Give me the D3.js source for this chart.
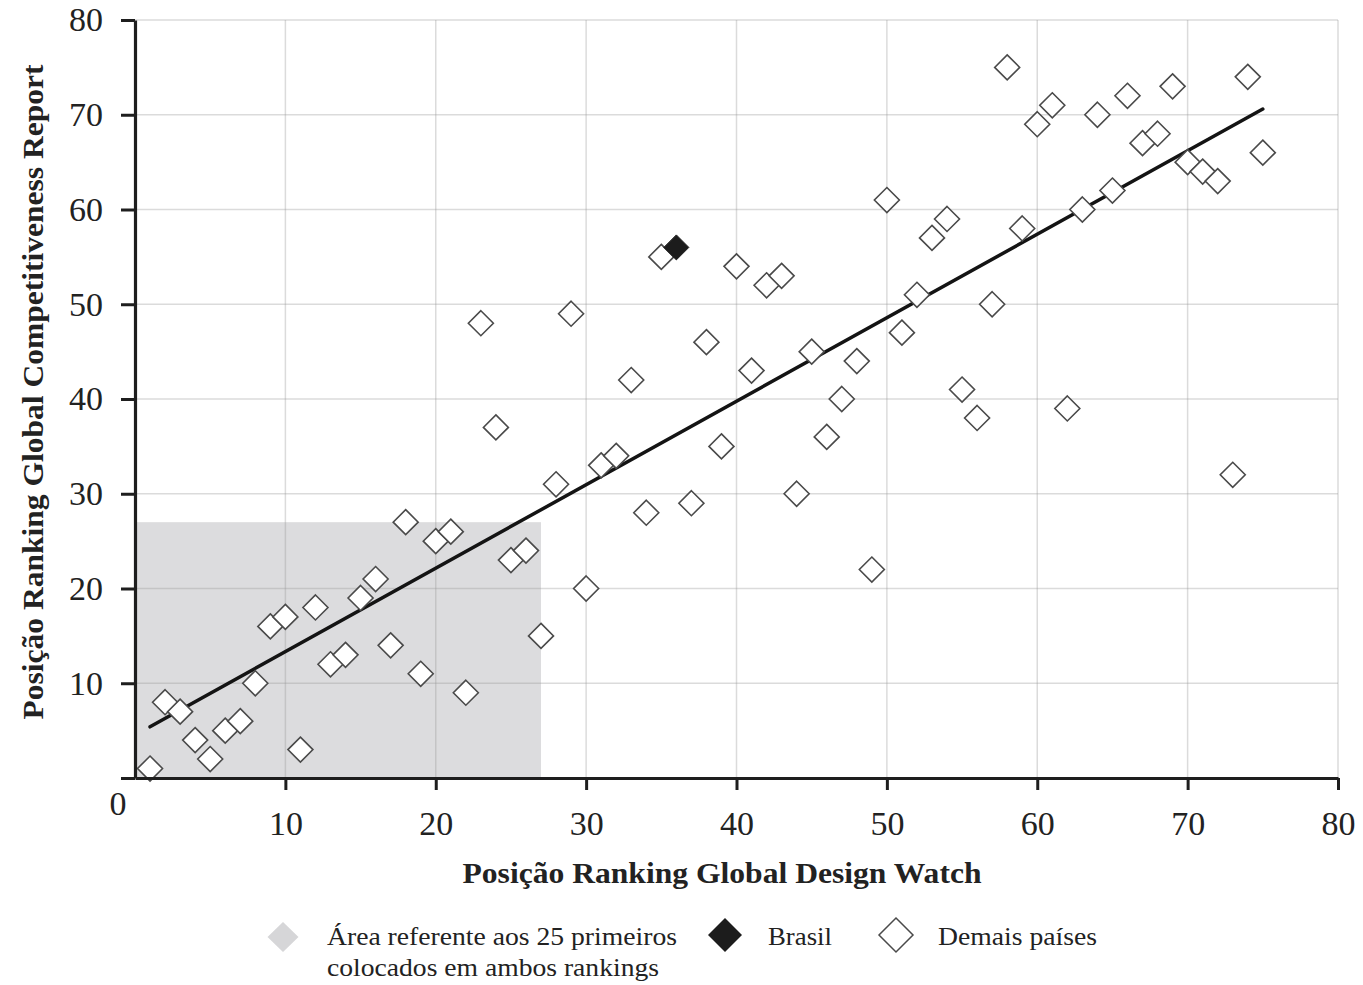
<!DOCTYPE html>
<html>
<head>
<meta charset="utf-8">
<script src="https://cdn.jsdelivr.net/npm/d3@7"></script>
<style>
  body { margin: 0; background: #fff; }
  text { font-family: "Liberation Serif", "Times New Roman", serif; fill: #222; }
</style>
</head>
<body>
<div id="chart"></div>
<script>
// Ranking positions (x = Global Design Watch, y = Global Competitiveness Report)
var designRank = [1, 2, 3, 4, 5, 6, 7, 8, 9, 10, 11, 12, 13, 14, 15, 16, 17, 18, 19, 20,
  21, 22, 23, 24, 25, 26, 27, 28, 29, 30, 31, 32, 33, 34, 35, 37, 38, 39, 40, 41,
  42, 43, 44, 45, 46, 47, 48, 49, 50, 51, 52, 53, 54, 55, 56, 57, 58, 59, 60, 61,
  62, 63, 64, 65, 66, 67, 68, 69, 70, 71, 72, 73, 74, 75];
var competRank = [1, 8, 7, 4, 2, 5, 6, 10, 16, 17, 3, 18, 12, 13, 19, 21, 14, 27, 11, 25,
  26, 9, 48, 37, 23, 24, 15, 31, 49, 20, 33, 34, 42, 28, 55, 29, 46, 35, 54, 43,
  52, 53, 30, 45, 36, 40, 44, 22, 61, 47, 51, 57, 59, 41, 38, 50, 75, 58, 69, 71,
  39, 60, 70, 62, 72, 67, 68, 73, 65, 64, 63, 32, 74, 66];

// Brasil
var brasilDesign = [36];
var brasilCompet = [56];

// Top-25 area (both rankings) and the fitted trend line
var areaX = [0, 27];
var areaY = [0, 27];
var trendX = [1, 75];
var trendY = [5.4, 70.6];

var tickValues = [0, 10, 20, 30, 40, 50, 60, 70, 80];

var legendLabels = [
  ["Área referente aos 25 primeiros", "colocados em ambos rankings"],
  ["Brasil"],
  ["Demais países"]
];

// Chart area
var svgWidth = 1363;
var svgHeight = 985;
var margin = { top: 20, right: 25, bottom: 207, left: 135 };
var width = svgWidth - margin.left - margin.right;
var height = svgHeight - margin.top - margin.bottom;

var svg = d3.select("#chart")
  .append("svg")
  .attr("width", svgWidth)
  .attr("height", svgHeight)
  .style("background", "#fff");

var chartGroup = svg.append("g")
  .attr("transform", `translate(${margin.left}, ${margin.top})`);

var x = d3.scaleLinear().domain([0, 80]).range([0, width]);
var y = d3.scaleLinear().domain([0, 80]).range([height, 0]);

// diamond path of half-diagonal r
function diamond(r) {
  return `M0,${-r}L${r},0L0,${r}L${-r},0Z`;
}

// shaded area of the top 25
chartGroup.append("rect")
  .attr("x", x(areaX[0]))
  .attr("y", y(areaY[1]))
  .attr("width", x(areaX[1]) - x(areaX[0]))
  .attr("height", y(areaY[0]) - y(areaY[1]))
  .attr("fill", "#dcdcde");

// grid
var gridTicks = tickValues.slice(1);
chartGroup.append("g").selectAll("line")
  .data(gridTicks)
  .enter()
  .append("line")
  .attr("x1", d => x(d)).attr("x2", d => x(d))
  .attr("y1", 0).attr("y2", height)
  .attr("stroke", "#999").attr("stroke-opacity", 0.35).attr("stroke-width", 1.5);

chartGroup.append("g").selectAll("line")
  .data(gridTicks)
  .enter()
  .append("line")
  .attr("y1", d => y(d)).attr("y2", d => y(d))
  .attr("x1", 0).attr("x2", width)
  .attr("stroke", "#999").attr("stroke-opacity", 0.35).attr("stroke-width", 1.5);

// trend line
var line = d3.line().x(d => x(d[0])).y(d => y(d[1]));
chartGroup.append("path")
  .datum(d3.zip(trendX, trendY))
  .attr("d", line)
  .attr("fill", "none")
  .attr("stroke", "#141414")
  .attr("stroke-width", 3.5)
  .attr("stroke-linecap", "round");

// other countries
chartGroup.append("g").selectAll("path")
  .data(d3.zip(designRank, competRank))
  .enter()
  .append("path")
  .attr("d", diamond(12.5))
  .attr("transform", d => `translate(${x(d[0])}, ${y(d[1])})`)
  .attr("fill", "#fff")
  .attr("stroke", "#4a4a4a")
  .attr("stroke-width", 1.6);

// Brasil
chartGroup.append("g").selectAll("path")
  .data(d3.zip(brasilDesign, brasilCompet))
  .enter()
  .append("path")
  .attr("d", diamond(12.5))
  .attr("transform", d => `translate(${x(d[0])}, ${y(d[1])})`)
  .attr("fill", "#1c1c1c")
  .attr("stroke", "#1c1c1c")
  .attr("stroke-width", 1);

// axes
var leftAxis = d3.axisLeft(y)
  .tickValues(tickValues)
  .tickSize(14)
  .tickSizeOuter(0)
  .tickPadding(18)
  .tickFormat(d => d === 0 ? "" : d);

var bottomAxis = d3.axisBottom(x)
  .tickValues(gridTicks)
  .tickSize(12)
  .tickSizeOuter(0)
  .tickPadding(21);

var yAxis = chartGroup.append("g").call(leftAxis);
var xAxis = chartGroup.append("g")
  .attr("transform", `translate(0, ${height})`)
  .call(bottomAxis);

[xAxis, yAxis].forEach(function(ax) {
  ax.select(".domain").attr("stroke", "#1e1e1e").attr("stroke-width", 3.2);
  ax.selectAll(".tick line").attr("stroke", "#1e1e1e").attr("stroke-width", 3);
  ax.selectAll(".tick text")
    .attr("fill", "#222")
    .style("font-family", '"Liberation Serif", serif')
    .style("font-size", "34px");
});

// shared origin label
chartGroup.append("text")
  .attr("x", x(0) - 17)
  .attr("y", y(0) + 37)
  .attr("text-anchor", "middle")
  .style("font-size", "34px")
  .text(tickValues[0]);

// axis titles
svg.append("text")
  .attr("x", 722)
  .attr("y", 883)
  .attr("text-anchor", "middle")
  .attr("textLength", 519)
  .attr("lengthAdjust", "spacingAndGlyphs")
  .style("font-size", "30px")
  .style("font-weight", "bold")
  .text("Posição Ranking Global Design Watch");

svg.append("text")
  .attr("transform", "translate(43, 392) rotate(-90)")
  .attr("text-anchor", "middle")
  .attr("textLength", 655)
  .attr("lengthAdjust", "spacingAndGlyphs")
  .style("font-size", "30px")
  .style("font-weight", "bold")
  .text("Posição Ranking Global Competitiveness Report");

// legend
var legend = svg.append("g");

legend.append("path")
  .attr("d", "M0,-15L15.5,0L0,15L-15.5,0Z")
  .attr("transform", "translate(283, 937)")
  .attr("fill", "#d6d6d8");

legend.append("path")
  .attr("d", diamond(17))
  .attr("transform", "translate(725, 935)")
  .attr("fill", "#1c1c1c");

legend.append("path")
  .attr("d", diamond(17))
  .attr("transform", "translate(896, 935)")
  .attr("fill", "#fff")
  .attr("stroke", "#4a4a4a")
  .attr("stroke-width", 1.5);

var legendText = [
  { x: 327, y: 945, len: 350, t: legendLabels[0][0] },
  { x: 327, y: 976, len: 332, t: legendLabels[0][1] },
  { x: 768, y: 945, len: 64, t: legendLabels[1][0] },
  { x: 938, y: 945, len: 159, t: legendLabels[2][0] }
];

legend.selectAll("text")
  .data(legendText)
  .enter()
  .append("text")
  .attr("x", d => d.x)
  .attr("y", d => d.y)
  .attr("textLength", d => d.len)
  .attr("lengthAdjust", "spacingAndGlyphs")
  .style("font-size", "26px")
  .text(d => d.t);
</script>
</body>
</html>
